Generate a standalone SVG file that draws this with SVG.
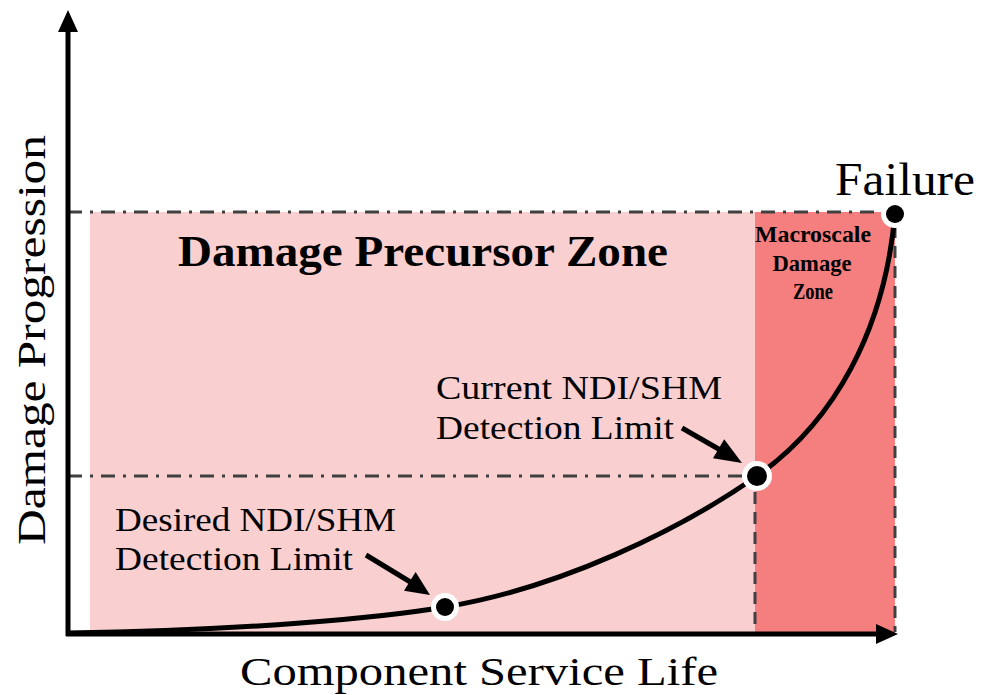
<svg xmlns="http://www.w3.org/2000/svg" width="981" height="695" viewBox="0 0 981 695">
<style>
.t{font-family:"Liberation Serif","DejaVu Serif",serif;fill:#000}
.b{font-weight:bold}
.dd{stroke:#404040;stroke-width:3;fill:none;stroke-dasharray:14,8,3,8}
.ds{stroke:#404040;stroke-width:3;fill:none;stroke-dasharray:12,8}
.ar{stroke:#000;stroke-width:5;fill:none}
</style>
<g id="zones">
<rect x="90" y="212" width="665" height="421" fill="#f9cfcf"/>
<rect x="755" y="212" width="140" height="421" fill="#f57e7e"/>
</g>
<g id="connectors">
<line class="dd" x1="68" y1="212" x2="880" y2="212"/>
<line class="dd" x1="68" y1="476" x2="742" y2="476"/>
<line class="ds" x1="755" y1="492" x2="755" y2="632"/>
<line class="ds" x1="895" y1="226" x2="895" y2="632"/>
<line x1="68" y1="636" x2="68" y2="30" stroke="#000" stroke-width="5"/>
<path d="M68,10L58,32L78,32z" fill="#000"/>
<line x1="66" y1="634" x2="878" y2="634" stroke="#000" stroke-width="5"/>
<path d="M898,634L876,624L876,644z" fill="#000"/>
<path d="M68,633C250,630 380,618 445,607C560,588 680,530 757,476C834,422 885,330 895,213" fill="none" stroke="#000" stroke-width="5"/>
<line class="ar" x1="366" y1="555" x2="412" y2="583"/>
<path d="M430,595L404,590.8L415.6,572z" fill="#000"/>
<line class="ar" x1="682" y1="428" x2="722" y2="451"/>
<path d="M742,463L713,458.3L724.2,439.3z" fill="#000"/>
</g>
<g id="desired-point"><circle cx="445" cy="607" r="14" fill="#fff"/><circle cx="445" cy="607" r="9" fill="#000"/></g>
<g id="current-point"><circle cx="757" cy="476" r="15" fill="#fff"/><circle cx="757" cy="476" r="10" fill="#000"/></g>
<g id="failure-point"><circle cx="895" cy="214" r="14" fill="#fff"/><circle cx="895" cy="214" r="9" fill="#000"/></g>
<g id="labels">
<text class="t b" x="178" y="266" font-size="44" textLength="490" lengthAdjust="spacingAndGlyphs">Damage Precursor Zone</text>
<text class="t b" x="813" y="242" font-size="24" text-anchor="middle" textLength="116" lengthAdjust="spacingAndGlyphs">Macroscale</text>
<text class="t b" x="812" y="271" font-size="24" text-anchor="middle" textLength="79" lengthAdjust="spacingAndGlyphs">Damage</text>
<text class="t b" x="813" y="299" font-size="24" text-anchor="middle" textLength="40" lengthAdjust="spacingAndGlyphs">Zone</text>
<text class="t" x="835" y="195" font-size="46" textLength="140" lengthAdjust="spacingAndGlyphs">Failure</text>
<text class="t" x="436" y="399" font-size="33" textLength="286" lengthAdjust="spacingAndGlyphs">Current NDI/SHM</text>
<text class="t" x="436" y="439" font-size="33" textLength="238" lengthAdjust="spacingAndGlyphs">Detection Limit</text>
<text class="t" x="115" y="531" font-size="33" textLength="281" lengthAdjust="spacingAndGlyphs">Desired NDI/SHM</text>
<text class="t" x="115" y="570" font-size="33" textLength="238" lengthAdjust="spacingAndGlyphs">Detection Limit</text>
<text class="t" x="240" y="685" font-size="41" textLength="478" lengthAdjust="spacingAndGlyphs">Component Service Life</text>
<text class="t" x="0" y="0" font-size="40" transform="translate(45,545) rotate(-90)" textLength="410" lengthAdjust="spacingAndGlyphs">Damage Progression</text>
</g>
</svg>
